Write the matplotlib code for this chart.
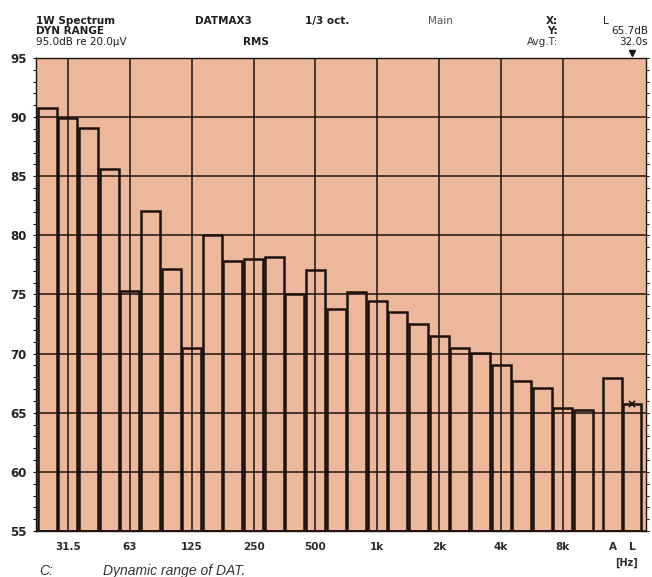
import matplotlib
matplotlib.use("Agg")
import matplotlib.pyplot as plt
from matplotlib.ticker import MultipleLocator

# third-octave bands 25 Hz .. 10 kHz, then A-weighted and linear totals
bands = ['25', '31.5', '40', '50', '63', '80', '100', '125', '160', '200',
         '250', '315', '400', '500', '630', '800', '1k', '1.25k', '1.6k', '2k',
         '2.5k', '3.15k', '4k', '5k', '6.3k', '8k', '10k']
levels = [90.75, 89.9, 89.1, 85.6, 75.3, 82.1, 77.15, 70.5, 80.0, 77.85,
          78.0, 78.2, 75.0, 77.1, 73.8, 75.2, 74.45, 73.5, 72.5, 71.45,
          70.5, 70.05, 69.0, 67.7, 67.1, 65.4, 65.25]
totals = ['A', 'L']
total_levels = [67.9, 65.7]
labelled = ['31.5', '63', '125', '250', '500', '1k', '2k', '4k', '8k']

W, H = 652, 577
ink = '#1c130d'
paper = '#ecb79b'

fig = plt.figure(figsize=(W / 100, H / 100), dpi=100)
ax = fig.add_axes([36 / W, 46 / H, 610 / W, 473 / H])
ax.set_facecolor(paper)


def px(x, y):
    return x / W, 1 - y / H


# bar slots: one unit per band, totals sit a little further right
xb = [i + 0.55 for i in range(len(bands))]
xt = [27.96, 28.9]

ax.bar(xb, [v - 55 for v in levels], bottom=55, width=0.92, fill=False,
       edgecolor=ink, linewidth=1.8, zorder=3)
ax.bar(xt, [v - 55 for v in total_levels], bottom=55, width=0.9, fill=False,
       edgecolor=ink, linewidth=1.8, zorder=3)

# cursor on L
ax.plot(xt[1], total_levels[1], 'x', color=ink, ms=4, mew=1.3, zorder=4)
ax.plot(xt[1], 95.45, 'v', color=ink, ms=5, clip_on=False, zorder=4)

ax.set_xlim(0, 29.58)
ax.set_ylim(55, 95)

# octave grid + 5 dB grid
grid_x = [xb[bands.index(b)] for b in labelled]
for gx in grid_x:
    ax.axvline(gx, color=ink, lw=1.1, zorder=2)
ax.set_yticks(range(55, 96, 5))
ax.yaxis.set_minor_locator(MultipleLocator(1))
ax.grid(axis='y', which='major', color=ink, lw=1.1, zorder=2)

ax.set_xticks(grid_x + xt, labelled + totals)
ax.tick_params(axis='x', length=0, pad=8, labelsize=7.5, labelcolor='#2a2a2a')
for t in ax.get_xticklabels():
    t.set_fontweight('bold')
ax.tick_params(axis='y', which='both', direction='out', length=2.5, width=0.8,
               left=True, right=True, color=ink, pad=4, labelsize=8.5,
               labelcolor='#222222')
for t in ax.get_yticklabels():
    t.set_fontweight('bold')
for s in ax.spines.values():
    s.set_color(ink)
    s.set_linewidth(1.0)

# analyser header, three tight rows (baselines)
r1, r2, r3 = 24, 34.5, 45
fs = 7.5
hdr = dict(fontsize=fs, fontweight='bold', color='#1e1e1e', va='baseline')
plain = dict(fontsize=fs, color='#1e1e1e', va='baseline')
fig.text(*px(36, r1), '1W Spectrum', **hdr)
fig.text(*px(195, r1), 'DATMAX3', **hdr)
fig.text(*px(305, r1), '1/3 oct.', **hdr)
fig.text(*px(428, r1), 'Main', fontsize=fs, color='#555555', va='baseline')
fig.text(*px(36, r2), 'DYN RANGE', **hdr)
fig.text(*px(36, r3), '95.0dB re 20.0\u00b5V', **plain)
fig.text(*px(243, r3), 'RMS', **hdr)
fig.text(*px(558, r1), 'X:', ha='right', **hdr)
fig.text(*px(558, r2), 'Y:', ha='right', **hdr)
fig.text(*px(558, r3), 'Avg.T:', ha='right', fontsize=fs, color='#333333',
         va='baseline')
fig.text(*px(603, r1), 'L', **plain)
fig.text(*px(648, r2), '65.7dB', ha='right', **plain)
fig.text(*px(648, r3), '32.0s', ha='right', **plain)

fig.text(*px(627, 563), '[Hz]', ha='center', va='center', fontsize=7,
         fontweight='bold', color='#2a2a2a')

# caption
cap = dict(fontsize=10, style='italic', color='#333333', va='center',
           family='Liberation Sans')
fig.text(*px(39, 571), 'C:', **cap)
fig.text(*px(103, 571), 'Dynamic range of DAT.', **cap)

fig.savefig('out.png', dpi=100)
